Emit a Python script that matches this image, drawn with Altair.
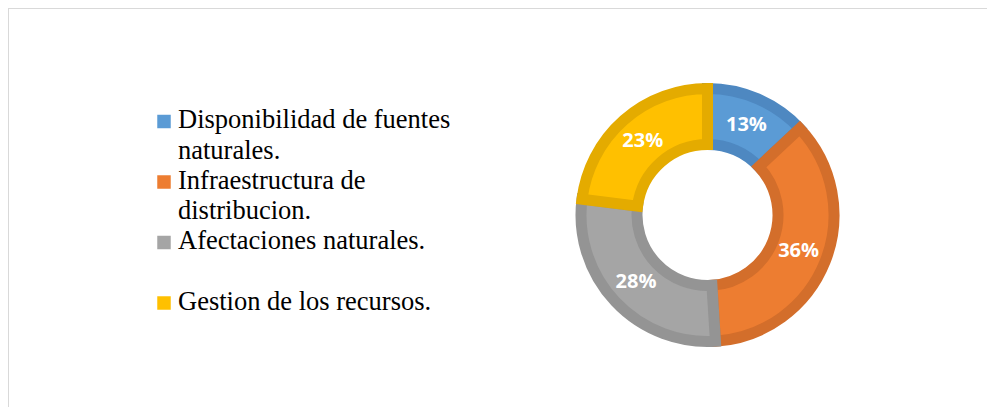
import altair as alt
import pandas as pd

# ---- data ----
categories = [
    "Disponibilidad de fuentes naturales.",
    "Infraestructura de distribucion.",
    "Afectaciones naturales.",
    "Gestion de los recursos.",
]
legend_text = [
    "Disponibilidad de fuentes\nnaturales.",
    "Infraestructura de\ndistribucion.",
    "Afectaciones naturales.",
    "Gestion de los recursos.",
]
shares = [13, 36, 28, 23]
share_labels = ["13%", "36%", "28%", "23%"]
fill_colors = ["#5B9BD5", "#ED7D31", "#A5A5A5", "#FFC000"]
edge_colors = ["#4E88C1", "#D36E2B", "#949494", "#E4AB00"]

df = pd.DataFrame({
    "category": categories,
    "legend": legend_text,
    "value": shares,
    "pct": share_labels,
    "idx": list(range(len(categories))),
})

W, H = 979, 399
CX, CY = 699.5, 207

color = alt.Color("category:N", scale=alt.Scale(domain=categories, range=fill_colors), legend=None)
stroke = alt.Stroke("category:N", scale=alt.Scale(domain=categories, range=edge_colors), legend=None)
theta = alt.Theta("value:Q", stack=True)
order = alt.Order("idx:Q")

base = alt.Chart(df)

arcs = base.mark_arc(outerRadius=126.5, innerRadius=70.5, strokeWidth=11, strokeJoin="miter").encode(
    theta=theta, order=order, color=color, stroke=stroke,
    x=alt.value(CX), y=alt.value(CY),
)

labels = base.mark_text(radius=98, font="Open Sans", fontSize=20, fontWeight="bold",
                        color="white").encode(
    theta=theta, order=order, text="pct:N",
    x=alt.value(CX), y=alt.value(CY),
)

ly = alt.Y("category:N", sort=categories, axis=None,
           scale=alt.Scale(range=[113.5, 295], padding=0))

leg_sq = base.mark_square(size=182, opacity=1).encode(
    y=ly, x=alt.value(156),
    color=alt.Color("category:N", scale=alt.Scale(domain=categories, range=edge_colors), legend=None),
)
leg_txt = base.mark_text(align="left", baseline="alphabetic", dy=6.5, font="Liberation Serif",
                         fontSize=26.5, lineBreak="\n", lineHeight=30.5, color="black").encode(
    y=ly, x=alt.value(170), text="legend:N",
)

frame_df = pd.DataFrame({"k": [0]})
top_line = alt.Chart(frame_df).mark_rule(color="#D9D9D9", strokeWidth=1).encode(
    x=alt.value(0), x2=alt.value(W), y=alt.value(0.5))
left_line = alt.Chart(frame_df).mark_rule(color="#D9D9D9", strokeWidth=1).encode(
    x=alt.value(0.5), y=alt.value(0), y2=alt.value(H))

chart = alt.layer(top_line, left_line, arcs, labels, leg_sq, leg_txt).properties(
    width=W, height=H, padding=0, autosize=alt.AutoSizeParams(type="none"),
    background="white",
).configure_view(stroke=None)

chart.save("out.html", embed_options={"renderer": "svg", "actions": False})
